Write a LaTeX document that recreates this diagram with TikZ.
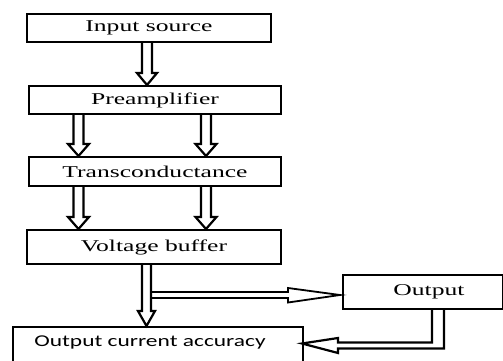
\documentclass[tikz,border=0pt]{standalone}
\usepackage{fontspec}
\setmainfont{Liberation Serif}
\newfontfamily\calfont{Carlito}
\usetikzlibrary{calc}
\newcommand\wide[2][1.55]{\scalebox{#1}[1]{#2}}
% down arrow: #1 x, #2 source, #3 target, #4 half gap, #5 head half width, #6 head length
\newcommand\dnarrow[6]{%
  \draw[arr] ($(#1,0 |- #2.south)+(-#4,0)$) -- ($(#1,0 |- #3.north)+(-#4,-#6)$)
    -- ($(#1,0 |- #3.north)+(-#5,-#6)$) -- (#1,0 |- #3.north)
    -- ($(#1,0 |- #3.north)+(#5,-#6)$) -- ($(#1,0 |- #3.north)+(#4,-#6)$)
    -- ($(#1,0 |- #2.south)+(#4,0)$);}
\begin{document}
\begin{tikzpicture}[x=1pt,y=-1pt,
  box/.style={draw, line width=2pt, anchor=north west, inner sep=0pt,
    font=\fontsize{16.5}{18}\selectfont},
  arr/.style={draw, line width=2.2pt, line join=miter, miter limit=10}]
\useasboundingbox (0,0) rectangle (503,361);
\fill[white] (0,0) rectangle (503,361);
\clip (0,0) rectangle (503,361);

\node[box, minimum width=244pt, minimum height=28pt] (in) at (26,13) {\wide{Input source}};
\node[box, minimum width=252pt, minimum height=28pt] (pre) at (28,85) {\wide{Preamplifier}};
\node[box, minimum width=252pt, minimum height=29pt] (tr) at (28,156) {\wide{Transconductance}};
\node[box, minimum width=254pt, minimum height=34pt] (vb) at (26,229) {\wide{Voltage buffer}};
\node[box, minimum width=160pt, minimum height=34pt] (out) at (342,274) {\hspace*{12pt}\wide{Output}};
\node[box, minimum width=290pt, text height=19pt, text depth=45pt] (oca) at (12,326)
  {\calfont\wide[1.42]{Output current accuracy}\hspace*{16pt}};

\dnarrow{147}{in}{pre}{5}{10}{12}
\dnarrow{78.5}{pre}{tr}{5}{10.5}{12}
\dnarrow{206}{pre}{tr}{5}{10.5}{12}
\dnarrow{78.5}{tr}{vb}{5}{10.5}{12}
\dnarrow{206}{tr}{vb}{5}{10.5}{12}
\dnarrow{146.5}{vb}{oca}{4.5}{8.5}{15}

% branch to Output
\coordinate (br) at (151.5,295);
\draw[arr, line width=1.8pt] ($(br)+(0,-3)$) -- ($(br -| out.west)+(-54,-3)$)
  -- ($(br -| out.west)+(-54,-7)$) -- ($(br -| out.west)+(-2,0)$)
  -- ($(br -| out.west)+(-54,7.5)$) -- ($(br -| out.west)+(-54,3)$) -- ($(br)+(0,3)$);

% feedback from Output to Output current accuracy
\coordinate (fb) at (438,0 |- out.south);
\coordinate (tip) at ($(oca.north east)+(-2,17.5)$);
\draw[arr] ($(fb)+(-6,0)$) -- ($(fb)+(-6,32.5)$) -- ($(fb)+(-100,32.5)$)
  -- ($(fb)+(-100,28)$) -- (tip) -- ($(fb)+(-100,43)$) -- ($(fb)+(-100,38.5)$)
  -- ($(fb)+(6,38.5)$) -- ($(fb)+(6,0)$);
\end{tikzpicture}
\end{document}
